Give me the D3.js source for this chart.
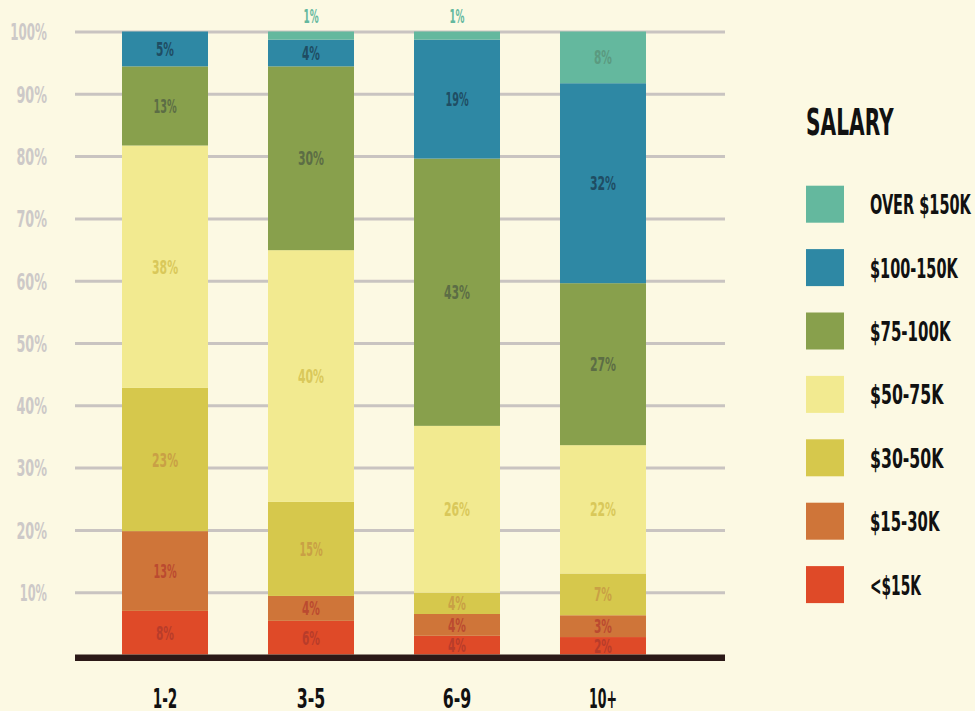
<!DOCTYPE html>
<html>
<head>
<meta charset="utf-8">
<script src="https://cdn.jsdelivr.net/npm/d3@7"></script>
<style>
  html, body { margin: 0; padding: 0; background: #fcf9e3; }
  svg { display: block; }
  text { font-family: "Liberation Sans Narrow", "DejaVu Sans Condensed", "Liberation Sans", sans-serif; font-weight: bold; }
</style>
</head>
<body>
<div id="chart"></div>
<script>
// years of experience groups
const groups = ["1-2", "3-5", "6-9", "10+"];

// salary bands, bottom to top
const bands = ["<$15K", "$15-30K", "$30-50K", "$50-75K", "$75-100K", "$100-150K", "OVER $150K"];
const bandColors = ["#df4a28", "#cf7539", "#d6c84c", "#f2ea90", "#88a04c", "#2e88a4", "#64b89e"];
const labelColors = ["#b83c2a", "#bb4a30", "#c9a045", "#d9c85a", "#5c6d45", "#1f4d63", "#5b9a80"];

// segment sizes (% of respondents) per group
const under15 = [7.0, 5.4, 3.0, 2.8];
const from15to30 = [12.8, 4.0, 3.5, 3.5];
const from30to50 = [23.0, 15.1, 3.4, 6.7];
const from50to75 = [38.9, 40.4, 26.8, 20.6];
const from75to100 = [12.7, 29.5, 42.9, 26.0];
const from100to150 = [5.6, 4.3, 19.1, 32.1];
const over150 = [0, 1.3, 1.3, 8.3];

// percentages printed on the segments
const shownPercent = [
  [8, 6, 4, 2],
  [13, 4, 4, 3],
  [23, 15, 4, 7],
  [38, 40, 26, 22],
  [13, 30, 43, 27],
  [5, 4, 19, 32],
  [null, 1, 1, 8]
];

const yTicks = [10, 20, 30, 40, 50, 60, 70, 80, 90, 100];

const series = [under15, from15to30, from30to50, from50to75, from75to100, from100to150, over150];
const rows = groups.map((g, i) => {
  const r = { group: g };
  bands.forEach((b, j) => r[b] = series[j][i]);
  return r;
});

const W = 975, H = 711;
const plotLeft = 75, plotRight = 725;

const svg = d3.select("#chart")
  .append("svg")
  .attr("width", W)
  .attr("height", H);

svg.append("rect").attr("width", W).attr("height", H).attr("fill", "#fcf9e3");

const x = d3.scaleBand()
  .domain(groups)
  .range([plotLeft, 693])
  .paddingInner(0.411)
  .paddingOuter(0.322);

const y = d3.scaleLinear()
  .domain([0, 100])
  .range([654.5, 31.5]);

// rough advance widths (in em) of a tall condensed display face,
// used to squeeze the installed font to the poster's proportions
const glyphW = { "1": 0.25, "%": 0.48, "-": 0.22, "+": 0.34, "<": 0.35, "$": 0.39, " ": 0.18,
  "L": 0.34, "E": 0.34, "S": 0.37, "Y": 0.37, "R": 0.39 };
function condense(sel, capPx) {
  const em = capPx / 0.7;
  sel.each(function() {
    const s = this.textContent;
    let w = 0;
    for (const c of s) w += glyphW[c] != null ? glyphW[c] : (/[0-9]/.test(c) ? 0.39 : 0.4);
    d3.select(this)
      .style("font-size", (capPx / 0.73) + "px")
      .attr("textLength", w * em)
      .attr("lengthAdjust", "spacingAndGlyphs");
  });
}

// gridlines + y labels
const yAxis = d3.axisLeft(y)
  .tickValues(yTicks)
  .tickFormat(d => d + "%")
  .tickSizeInner(-(plotRight - plotLeft))
  .tickSizeOuter(0)
  .tickPadding(28);

const yg = svg.append("g")
  .attr("transform", `translate(${plotLeft},0)`)
  .call(yAxis);
yg.select(".domain").remove();
yg.selectAll(".tick line").attr("stroke", "#c9c4c1").attr("stroke-width", 3);
yg.selectAll(".tick text")
  .attr("fill", "#cdc9c8")
  .attr("font-family", null)
  .attr("font-size", null)
  .attr("dy", "0.36em")
  .call(condense, 17);

// stacked bars
const stacked = d3.stack().keys(bands)(rows);

const layers = svg.selectAll(".layer")
  .data(stacked)
  .enter()
  .append("g")
  .attr("class", "layer")
  .attr("fill", (d, i) => bandColors[i]);

layers.selectAll("rect")
  .data(d => d)
  .enter()
  .append("rect")
  .attr("x", d => x(d.data.group))
  .attr("y", d => y(d[1]))
  .attr("width", x.bandwidth())
  .attr("height", d => y(d[0]) - y(d[1]));

// segment labels
stacked.forEach((layer, j) => {
  layer.forEach((d, i) => {
    const pct = shownPercent[j][i];
    if (pct == null) return;
    const h = y(d[0]) - y(d[1]);
    const outside = h < 12;
    svg.append("text")
      .attr("x", x(d.data.group) + x.bandwidth() / 2)
      .attr("y", outside ? 23 : (y(d[0]) + y(d[1])) / 2 + 7)
      .attr("text-anchor", "middle")
      .attr("fill", outside ? bandColors[j] : labelColors[j])
      .text(pct + "%")
      .call(condense, 14.5);
  });
});

// baseline
svg.append("rect")
  .attr("x", plotLeft)
  .attr("y", y(0))
  .attr("width", plotRight - plotLeft)
  .attr("height", 6.5)
  .attr("fill", "#2b1917");

// x labels
svg.selectAll(".xlabel")
  .data(groups)
  .enter()
  .append("text")
  .attr("class", "xlabel")
  .attr("x", d => x(d) + x.bandwidth() / 2)
  .attr("y", 708)
  .attr("text-anchor", "middle")
  .attr("fill", "#111")
  .text(d => d)
  .call(condense, 20);

// legend
svg.append("text")
  .attr("x", 806)
  .attr("y", 135)
  .attr("fill", "#111")
  .text("SALARY")
  .call(condense, 27);

const legendData = bands.map((b, i) => ({ text: b, color: bandColors[i] })).reverse();

const item = svg.selectAll(".legend-item")
  .data(legendData)
  .enter()
  .append("g")
  .attr("class", "legend-item")
  .attr("transform", (d, i) => `translate(806,${185.7 + i * 63.4})`);

item.append("rect")
  .attr("width", 38)
  .attr("height", 37)
  .attr("fill", d => d.color);

item.append("text")
  .attr("x", 64)
  .attr("y", 28.5)
  .attr("fill", "#111")
  .text(d => d.text)
  .call(condense, 20);
</script>
</body>
</html>
